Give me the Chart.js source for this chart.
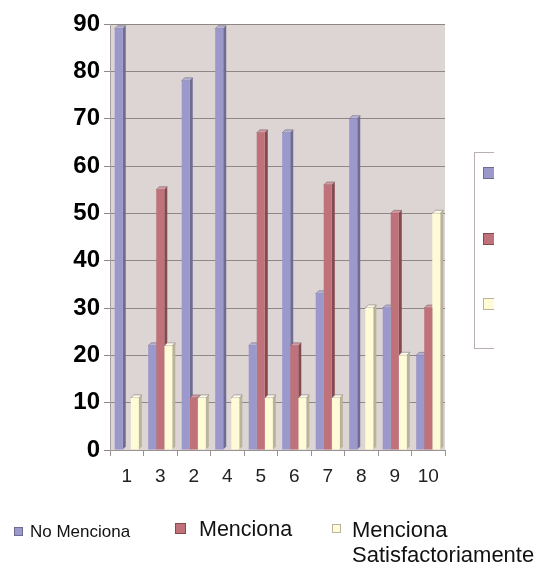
<!DOCTYPE html>
<html>
<head>
<meta charset="utf-8">
<script src="https://cdn.jsdelivr.net/npm/chart.js@4.4.1/dist/chart.umd.min.js"></script>
<style>
  html, body { margin: 0; padding: 0; background: #fff; }
  #wrap { position: relative; width: 535px; height: 567px; overflow: hidden; font-family: "Liberation Sans", Arial, sans-serif; }
  #myChart { position: absolute; left: 0; top: 0; }
  .sideLegend { position: absolute; left: 474px; top: 152px; width: 19px; height: 195px;
    border: 1px solid #b8b0b0; border-right: none; overflow: hidden; }
  .sideLegend span { position: absolute; left: 8px; width: 10px; height: 10px; }
  .legend { position: absolute; color: #111; white-space: nowrap; }
  .legend i { position: absolute; display: block; }
</style>
</head>
<body>
<div id="wrap">
  <canvas id="myChart" width="535" height="567"></canvas>
  <div class="sideLegend" id="sideLegend"></div>
  <div id="bottomLegend"></div>
</div>
<script>
const categories = ['1', '3', '2', '4', '5', '6', '7', '8', '9', '10'];
const seriesNames = ['No Menciona', 'Menciona', 'Menciona Satisfactoriamente'];
const noMenciona = [89, 22, 78, 89, 22, 67, 33, 70, 30, 20];
const menciona = [0, 55, 11, 0, 67, 22, 56, 0, 50, 30];
const satisfactoriamente = [11, 22, 11, 11, 11, 11, 11, 30, 20, 50];
const yTicks = [0, 10, 20, 30, 40, 50, 60, 70, 80, 90];

const fronts = ['#9b98cc', '#c0727a', '#fffbd6'];
const sides = ['#6f6c94', '#86494f', '#b9b39c'];
const tops = ['#b7b4dc', '#d79aa0', '#fffdea'];

// 3d faces, drawn before the fronts so neighbours overlap them
const depth = 3;
const bars3d = {
  id: 'bars3d',
  beforeDraw(chart) {
    const a = chart.chartArea, c = chart.ctx;
    c.save();
    c.fillStyle = '#dcd5d3';
    c.fillRect(a.left, a.top, a.right - a.left, a.bottom - a.top);
    c.restore();
  },
  beforeDatasetsDraw(chart) {
    const c = chart.ctx;
    c.save();
    const n = chart.data.labels.length;
    for (let i = 0; i < n; i++) {
      chart.data.datasets.forEach((ds, d) => {
        if (!ds.data[i]) return;
        const el = chart.getDatasetMeta(d).data[i];
        const l = el.x - el.width / 2, r = el.x + el.width / 2;
        c.fillStyle = sides[d];
        c.beginPath();
        c.moveTo(r, el.y); c.lineTo(r + depth, el.y - depth);
        c.lineTo(r + depth, el.base - depth); c.lineTo(r, el.base);
        c.closePath(); c.fill();
        c.fillStyle = tops[d];
        c.beginPath();
        c.moveTo(l, el.y); c.lineTo(l + depth, el.y - depth);
        c.lineTo(r + depth, el.y - depth); c.lineTo(r, el.y);
        c.closePath(); c.fill();
        c.strokeStyle = 'rgba(60,50,60,0.6)';
        c.lineWidth = 0.6;
        c.stroke();
      });
    }
    c.restore();
  }
};

const data = {
  labels: categories,
  datasets: [noMenciona, menciona, satisfactoriamente].map((vals, i) => ({
    label: seriesNames[i],
    data: vals,
    backgroundColor: fronts[i],
    borderWidth: 0,
    categoryPercentage: 0.72,
    barPercentage: 1.0
  }))
};

const config = {
  type: 'bar',
  data: data,
  options: {
    responsive: false,
    animation: false,
    layout: { padding: { left: 0, right: 90, top: 24, bottom: 77 } },
    plugins: { legend: { display: false }, tooltip: { enabled: false } },
    scales: {
      x: {
        grid: { drawOnChartArea: false, offset: true, tickLength: 6, color: '#9a9292' },
        border: { color: '#9a9292' },
        ticks: { color: '#222', padding: 9, font: { family: 'Liberation Sans', size: 19 } },
        afterFit(s) { s.height = 40; }
      },
      y: {
        min: 0, max: 90,
        afterBuildTicks(s) { s.ticks = yTicks.map(v => ({ value: v })); },
        grid: { color: '#8f8686', tickLength: 6, tickColor: '#8f8686' },
        border: { color: '#a8a0a0' },
        ticks: { color: '#000', padding: 4, font: { family: 'Liberation Sans', size: 24, weight: 'bold' } },
        afterFit(s) { s.width = 110; }
      }
    }
  },
  plugins: [bars3d]
};

new Chart(document.getElementById('myChart'), config);

// clipped legend box on the right
const side = document.getElementById('sideLegend');
[14, 80, 145].forEach((t, i) => {
  const s = document.createElement('span');
  s.style.top = t + 'px';
  s.style.background = fronts[i];
  s.style.border = '1px solid ' + sides[i];
  side.appendChild(s);
});

// bottom legend, each entry with its own size
const bottomItems = [
  { x: 14, y: 522, box: 7, boxTop: 5, gap: 16, size: 17, lh: '1.15', text: 'No Menciona' },
  { x: 175, y: 517, box: 9, boxTop: 6, gap: 24, size: 21.5, lh: '1.15', text: 'Menciona' },
  { x: 332, y: 517, box: 7, boxTop: 7, gap: 20, size: 22, lh: '25px', text: 'Menciona<br>Satisfactoriamente' }
];
const bl = document.getElementById('bottomLegend');
bottomItems.forEach((it, i) => {
  const d = document.createElement('div');
  d.className = 'legend';
  d.style.left = it.x + 'px';
  d.style.top = it.y + 'px';
  d.style.fontSize = it.size + 'px';
  d.style.lineHeight = it.lh;
  d.style.paddingLeft = it.gap + 'px';
  d.innerHTML = '<i style="left:0;top:' + it.boxTop + 'px;width:' + it.box + 'px;height:' + it.box +
    'px;background:' + fronts[i] + ';border:1px solid ' + sides[i] + '"></i>' + it.text;
  bl.appendChild(d);
});
</script>
</body>
</html>
